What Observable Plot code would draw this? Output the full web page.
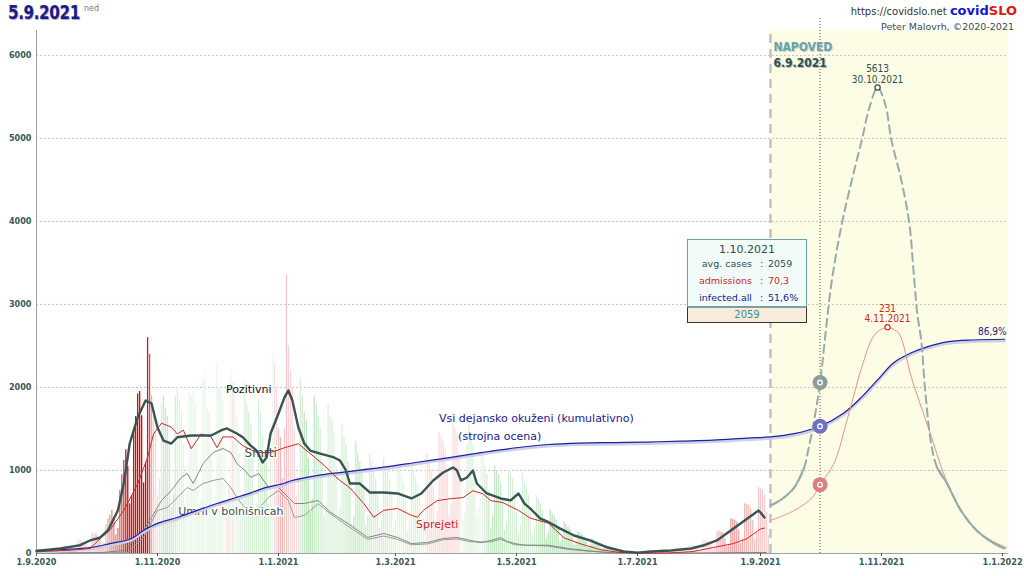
<!DOCTYPE html>
<html><head><meta charset="utf-8">
<script src="https://cdn.jsdelivr.net/npm/d3@7"></script>
<script src="https://cdn.jsdelivr.net/npm/@observablehq/plot@0.6"></script>
<style>
body{margin:0;background:#fff;}
#wrap{position:relative;width:1024px;height:576px;overflow:hidden;font-family:"DejaVu Sans",sans-serif;}
#chart{position:absolute;left:0;top:0;}
#title{position:absolute;left:8px;top:1px;font-weight:bold;font-size:19px;color:#1b1b8f;text-shadow:1px 1px 1px #aaa;letter-spacing:-0.5px;transform:scaleX(0.8);transform-origin:left top;}
#ned{position:absolute;left:84px;top:4px;font-size:8px;color:#777;}
#cred1{position:absolute;right:7px;top:3px;font-size:10px;color:#333;white-space:nowrap;}
#cred1 b{font-size:13px;}
#cred1 .c{color:#1515d8;} #cred1 .s{color:#e01515;}
#cred2{position:absolute;right:10px;top:21px;font-size:9.5px;color:#3d4d4d;white-space:nowrap;}
#box{position:absolute;left:687px;top:239px;width:120px;}
#boxTop{position:relative;height:66px;background:#f1fcfa;border:1px solid #64a4a8;}
#boxBot{height:14px;background:#f8ebde;border:1px solid #333;border-top:1px solid #999;text-align:center;color:#2f9090;font-size:10px;line-height:14px;}
#bh{position:absolute;left:0;right:0;top:3px;text-align:center;font-size:11px;color:#2f4f4f;}
.row{position:absolute;left:0;width:120px;height:12px;font-size:9.5px;line-height:12px;}
.row .l{position:absolute;left:0;width:64px;text-align:right;}
.row .c{position:absolute;left:72px;}
.row .v{position:absolute;left:80px;}
</style></head><body>
<div id="wrap">
  <div id="chart"></div>
  <div id="title">5.9.2021</div><div id="ned">ned</div>
  <div id="cred1">https://covidslo.net&nbsp;<b class="c">covid</b><b class="s">SLO</b></div>
  <div id="cred2">Peter Malovrh, ©2020-2021</div>
  <div id="box">
    <div id="boxTop">
      <div id="bh"></div>
      <div class="row" style="top:18px;color:#2f4f4f"><span class="l">avg. cases</span><span class="c">:</span><span class="v" id="v1"></span></div>
      <div class="row" style="top:35px;color:#c62828"><span class="l">admissions</span><span class="c">:</span><span class="v" id="v2"></span></div>
      <div class="row" style="top:52px;color:#1a1a8c"><span class="l">infected.all</span><span class="c">:</span><span class="v" id="v3"></span></div>
    </div>
    <div id="boxBot"></div>
  </div>
</div>
<script>
// ---------- DATA ----------
const START = "2020-09-01";           // day 0
const X_END = "2022-01-04";
const FORECAST_START = "2021-09-06";
const MARKER_DATE = "2021-10-01";
const xTicks = ["2020-09-01","2020-11-01","2021-01-01","2021-03-01","2021-05-01","2021-07-01","2021-09-01","2021-11-01","2022-01-01"];
const yTicks = [0,1000,2000,3000,4000,5000,6000];

// daily positive cases, from 1.9.2020 (Tue) to 5.9.2021
const casesDaily = [
40,45,42,40,35,18,22,
65,70,62,60,50,25,35,
95,100,90,92,75,40,52,
150,155,140,135,110,60,85,
240,230,250,210,180,95,120,
350,420,460,520,440,220,300,
760,950,1120,1250,1050,600,700,
1500,1650,1920,1950,1660,850,1100,
2600,2400,1900,1650,1450,700,900,
1800,1900,1750,1650,1350,550,700,
1900,2000,1850,1700,1300,600,750,
1950,1900,1950,1800,1250,550,650,
2100,2200,1750,1700,1200,550,700,
2300,2000,1950,1850,1300,600,800,
2200,2050,1900,1650,1200,550,700,
2050,1800,1700,1550,1150,500,600,
1850,1700,1400,1100,1100,600,1300,
2400,2300,2000,1500,1400,900,1500,
3350,2500,2200,2000,1500,700,900,
2100,1900,1700,1600,1150,500,650,
1900,1800,1650,1500,1100,450,600,
1800,1650,1600,1450,1050,400,550,
1550,1400,1300,1100,850,350,450,
1350,1200,1100,1000,800,330,450,
1200,1100,1000,900,700,300,400,
1150,1050,1000,900,700,300,400,
1100,1050,950,850,650,280,380,
1050,1000,900,850,700,300,420,
1200,1200,1100,1000,800,350,500,
1450,1400,1350,1250,1000,450,600,
1550,1500,1450,1200,900,400,500,
1300,1600,1450,1300,1000,420,550,
1250,1200,1050,950,750,300,450,
1050,1000,950,850,650,280,380,
1000,950,900,750,500,250,350,
950,850,800,700,550,230,320,
700,650,600,520,420,180,250,
520,480,450,400,320,140,200,
380,350,320,290,230,100,140,
260,250,230,200,160,70,100,
180,160,140,120,100,45,60,
100,90,80,70,55,25,35,
40,35,30,25,20,8,12,
18,16,15,14,10,5,8,
30,35,32,30,22,10,14,
50,48,45,42,30,14,20,
70,68,65,60,45,20,30,
95,100,95,90,65,30,40,
150,155,150,140,100,45,60,
260,270,260,250,180,80,110,
420,410,400,380,280,120,170,
600,590,580,540,400,170,240,
800,780,760,700,500,220];

// 7-day average of positive cases ("Pozitivni")
const posDay = [0,12,17,22,27,32,36,41,44,47,51,55,58,61,64,68,71,78,88,93,96,101,104,108,111,114,116,118,122,125,127,129,132,135,138,143,150,153,156,158,163,168,175,182,189,194,200,205,210,212,214,217,220,222,227,234,239,243,246,249,254,258,264,271,279,288,296,303,310,320,330,336,343,350,357,364,365,367];
const posVal = [30,60,80,100,157,190,277,518,843,1325,1640,1843,1807,1518,1361,1325,1400,1421,1421,1482,1506,1445,1400,1300,1240,1096,1157,1445,1687,1880,1964,1843,1518,1325,1240,1204,1157,1120,1000,843,843,735,735,723,663,723,880,976,1036,1000,880,916,1000,843,723,663,640,723,600,540,420,380,300,217,157,72,24,10,24,36,60,96,157,277,397,518,494,433];

// hospital admissions ("Sprejeti"), 7-day average
const admDay = [0,17,27,32,37,44,51,56,59,63,68,71,74,78,83,88,91,94,99,104,111,118,125,132,138,145,152,158,165,170,175,182,189,192,195,202,209,215,220,225,229,235,243,249,258,266,274,284,294,308,318,331,341,351,358,365,367];
const admVal = [1.7,3.4,5.1,15,24,44,71,98,122,133,129,122,126,107,122,119,108,119,119,110,103,103,108,112,102,90,76,67,51,37,44,46,39,37,44,54,56,57,64,61,54,52,44,36,31,16,10,4,1,0.4,0.4,2,6,10,15,25,26];

// deaths ("Smrti"), in chart units
const smrtiDay = [0,32,44,53,58,63,68,73,76,79,84,89,94,98,101,105,108,112,117,122,127,130,135,142,148,157,167,175,182,189,197,205,212,219,224,229,234,237,241,246,258,268,279,291,310,335,355,368];
const smrtiVal = [5,10,36,241,433,638,759,916,963,843,1084,1216,1265,1216,1084,1000,916,963,795,795,675,602,602,638,500,361,193,241,193,120,132,181,193,157,130,157,190,150,120,100,100,60,30,8,3,5,10,12];

// deaths in hospitals ("Umrli v bolnišnicah"), in chart units
const umrliDay = [0,37,46,54,61,66,71,76,79,84,89,94,98,101,106,112,117,122,127,130,135,142,148,157,167,175,182,189,197,205,212,219,229,234,241,258,268,291,310,368];
const umrliVal = [3,10,12,193,518,554,675,795,759,843,880,903,795,675,518,542,675,759,638,433,458,600,480,330,170,210,170,105,115,165,175,140,140,170,105,90,50,4,2,8];

// all actually infected, cumulative % (model estimate incl. forecast)
const infDay = [0,27,37,48,54,61,71,81,91,101,108,115,125,128,142,155,175,192,209,225,243,258,274,291,308,325,341,358,370,382,395,407,416,424,432,441,449,459,472,488];
const infPct = [1.3,2.4,4,6.1,9.3,12.2,14.6,17.5,20.3,22.8,24.6,26.6,28.5,29.4,31.7,33,35,37,39,41,43,44.2,44.8,45,45.2,45.6,46,46.8,47.3,48.6,51.6,57,63.5,70.4,77.3,81.4,83.8,85.8,86.6,86.9];

// forecast: avg cases
const fcCasesDay = [370,376,382,387,389,392,395,398,401,406,411,416,420,424,428,431,436,440,442,444,446,448,451,454,459,466,474,482,488];
const fcCasesVal = [578,660,795,1036,1240,1602,2059,2700,3300,3976,4494,4976,5380,5613,5400,4976,4494,3976,3446,2892,2566,1964,1325,1036,843,518,277,132,60];

// forecast: admissions
const fcAdmDay = [370,382,391,395,402,409,416,422,426,429,432,435,441,450,458,466,476,489];
const fcAdmVal = [33.7,43.9,57,70.3,92,139,190,222,229,231,229,224,180,126,78,44,20,6];

// ---------- HELPERS ----------
const ADM = 11.8;   // admissions -> chart units
const PCT = 29.7;   // percent -> chart units
const day0 = new Date(START + "T00:00:00Z");
const toDate = d => new Date(day0.getTime() + d * 864e5);
const parse = s => new Date(s + "T00:00:00Z");
const fmtDate = d => `${d.getUTCDate()}.${d.getUTCMonth()+1}.${d.getUTCFullYear()}`;
const comma = v => v.toFixed(1).replace(".", ",");
const series = (days, vals, f = 1) => days.map((d, i) => ({day: d, date: toDate(d), v: vals[i] * f, raw: vals[i]}));
const FONT = "'DejaVu Sans Condensed','DejaVu Sans',sans-serif";
const FONT2 = "'DejaVu Sans',sans-serif";

const pos = series(posDay, posVal);
const adm = series(admDay, admVal, ADM);
const smrti = series(smrtiDay, smrtiVal);
const umrli = series(umrliDay, umrliVal);
const inf = series(infDay, infPct, PCT);
const fcCases = series(fcCasesDay, fcCasesVal);
const fcAdm = series(fcAdmDay, fcAdmVal, ADM);
const fcSolid = fcCases.filter(d => d.v <= 1050).map(d => ({...d, side: d.day < 420 ? "L" : "R"}));

// bar colours from week-over-week growth of the daily values
const red = d3.interpolateRgb("#fbdede", "#cc0a0a");
const green = d3.interpolateRgb("#eef9ee", "#b4e2b4");
const bars = casesDaily.map((v, i) => {
  const cur = d3.mean(casesDaily.slice(Math.max(0, i - 6), i + 1));
  const prev = d3.mean(casesDaily.slice(Math.max(0, i - 13), Math.max(1, i - 6)));
  const r = cur / prev;
  let c;
  if (r >= 1.05) c = red(Math.pow(Math.min(1, (r - 1.05) / 0.6), 3) * Math.min(1, cur / 800));
  else c = green(Math.min(1, (1.05 - r) / 0.35));
  return {date: toDate(i), v, c};
});

const mk = MARKER_DATE;
const mkDay = Math.round((parse(mk) - day0) / 864e5);
const at = (s, d) => s.find(p => p.day === d);
const mCases = at(fcCases, mkDay), mAdm = at(fcAdm, mkDay), mInf = at(inf, mkDay);
const markers = [
  {date: parse(mk), v: mCases.v, fill: "#8a9e9e"},
  {date: parse(mk), v: mInf.v, fill: "#6f6fc4"},
  {date: parse(mk), v: mAdm.v, fill: "#d98080"}
];
const pkCases = d3.greatest(fcCases, d => d.v);
const pkAdm = d3.greatest(fcAdm, d => d.v);
const lastInf = inf[inf.length - 1];

const labels = [
  {day: 107, v: 1976, t: "Pozitivni", c: "#111111", halo: false, s: 11},
  {day: 113, v: 1205, t: "Smrti", c: "#3a5050", halo: true, s: 12},
  {day: 98, v: 506, t: "Umrli v bolnišnicah", c: "#3a5050", halo: true, s: 11},
  {day: 252, v: 1627, t: "Vsi dejansko okuženi (kumulativno)", c: "#1a1a8c", halo: false, s: 11},
  {day: 233.5, v: 1410, t: "(strojna ocena)", c: "#1a1a8c", halo: false, s: 11},
  {day: 202, v: 349, t: "Sprejeti", c: "#c62828", halo: false, s: 11}
].map(d => ({...d, date: toDate(d.day)}));

const yTop = 6300;
const fcStart = parse(FORECAST_START), xEnd = parse(X_END);

const chart = Plot.plot({
  width: 1024, height: 576,
  marginLeft: 36, marginRight: 16, marginTop: 30, marginBottom: 23,
  x: {type: "utc", domain: [day0, xEnd]},
  y: {domain: [0, yTop]},
  style: {fontFamily: FONT, fontSize: "9px", background: "transparent", overflow: "visible"},
  marks: [
    Plot.rect([0], {x1: () => fcStart, x2: () => xEnd, y1: 0, y2: yTop, fill: "#fdfde6"}),
    Plot.gridY(yTicks.slice(1), {stroke: "#b4b4b4", strokeOpacity: 1, strokeWidth: 0.8, strokeDasharray: "2,2"}),
    Plot.ruleX(bars, {x: "date", y1: 0, y2: "v", stroke: "c", strokeWidth: 1.3}),
    Plot.ruleX([fcStart], {y1: 0, y2: yTop, stroke: "#c2c2c2", strokeWidth: 2.5, strokeDasharray: "9,6"}),
    Plot.ruleX([parse(mk)], {y1: 0, y2: 6450, stroke: "#555", strokeWidth: 1, strokeDasharray: "1,2"}),
    Plot.ruleX([day0], {y1: 0, y2: yTop, stroke: "#a0a0a0"}),
    Plot.ruleY([0], {stroke: "#a0a0a0"}),
    Plot.line(umrli, {x: "date", y: "v", stroke: "#9a9a9a", strokeWidth: 1}),
    Plot.line(smrti, {x: "date", y: "v", stroke: "#858585", strokeWidth: 1}),
    Plot.text(labels.filter(d => d.halo), {x: "date", y: "v", text: "t", fill: "c", stroke: "white", strokeWidth: 3, fontSize: "s", fontFamily: FONT2}),
    Plot.text(labels.filter(d => !d.halo), {x: "date", y: "v", text: "t", fill: "c", fontSize: "s", fontFamily: FONT2}),
    Plot.line(inf, {x: "date", y: "v", stroke: "#cdd0e2", strokeWidth: 3, dy: 1.5, curve: "catmull-rom"}),
    Plot.line(inf, {x: "date", y: "v", stroke: "#1f1fa6", strokeWidth: 1.2, curve: "catmull-rom"}),
    Plot.line(adm, {x: "date", y: "v", stroke: "#d02828", strokeWidth: 1}),
    Plot.line(pos, {x: "date", y: "v", stroke: "#3a5454", strokeWidth: 2.4}),
    Plot.line(fcAdm, {x: "date", y: "v", stroke: "#e89090", strokeWidth: 1, curve: "catmull-rom"}),
    Plot.line(fcCases, {x: "date", y: "v", stroke: "#98abab", strokeWidth: 2, strokeDasharray: "8,5", curve: "catmull-rom"}),
    Plot.line(fcSolid, {x: "date", y: "v", z: "side", stroke: "#98abab", strokeWidth: 2, curve: "catmull-rom"}),
    Plot.dot(markers, {x: "date", y: "v", r: 7.5, fill: "fill", stroke: "none"}),
    Plot.dot(markers, {x: "date", y: "v", r: 2.3, fill: "none", stroke: "white", strokeWidth: 1.3}),
    Plot.dot([pkCases], {x: "date", y: "v", r: 2.6, fill: "#fffff0", stroke: "#2f4f4f", strokeWidth: 1.2}),
    Plot.dot([pkAdm], {x: "date", y: "v", r: 2.6, fill: "#fffff0", stroke: "#c62828", strokeWidth: 1.1}),
    Plot.text([pkCases], {x: "date", y: "v", text: d => `${d.raw}\n${fmtDate(d.date)}`, lineAnchor: "bottom", dy: -5, fill: "#2f4f4f", fontSize: 10, lineHeight: 1.05}),
    Plot.text([pkAdm], {x: "date", y: "v", text: d => `${d.raw}\n${fmtDate(d.date)}`, lineAnchor: "bottom", dy: -5, fill: "#c62828", fontSize: 10, lineHeight: 1.05}),
    Plot.text([lastInf], {x: "date", y: "v", text: d => comma(d.raw) + "%", textAnchor: "end", dy: -7, dx: 2, fill: "#1a1a8c", fontSize: 10}),
    Plot.text(["NAPOVED"], {x: () => fcStart, frameAnchor: "top", text: d => d, textAnchor: "start", dx: 4, dy: 13, fill: "#c8d2d2", fontWeight: "bold", fontSize: 12}),
    Plot.text(["NAPOVED"], {x: () => fcStart, frameAnchor: "top", text: d => d, textAnchor: "start", dx: 3, dy: 12, fill: "#6aa3aa", fontWeight: "bold", fontSize: 12}),
    Plot.text([fcStart], {x: d => d, frameAnchor: "top", text: d => fmtDate(d), textAnchor: "start", dx: 4, dy: 29, fill: "#b8c0c0", fontWeight: "bold", fontSize: 12}),
    Plot.text([fcStart], {x: d => d, frameAnchor: "top", text: d => fmtDate(d), textAnchor: "start", dx: 3, dy: 28, fill: "#2f4f4f", fontWeight: "bold", fontSize: 12}),
    Plot.axisY(yTicks, {tickSize: 0, tickPadding: 5, tickFormat: d => String(d), color: "#3c5858", fontWeight: "bold", fontSize: 9, label: null}),
    Plot.axisX(xTicks.map(parse), {tickSize: 3, tickPadding: 2, tickFormat: fmtDate, color: "#3c5858", fontWeight: "bold", fontSize: 9, label: null})
  ]
});
document.getElementById("chart").appendChild(chart);

// info box values derived from the forecast series
document.getElementById("bh").textContent = fmtDate(parse(mk));
document.getElementById("v1").textContent = mCases.raw;
document.getElementById("v2").textContent = comma(mAdm.raw);
document.getElementById("v3").textContent = comma(mInf.raw) + "%";
document.getElementById("boxBot").textContent = mCases.raw;
</script>
</body></html>
